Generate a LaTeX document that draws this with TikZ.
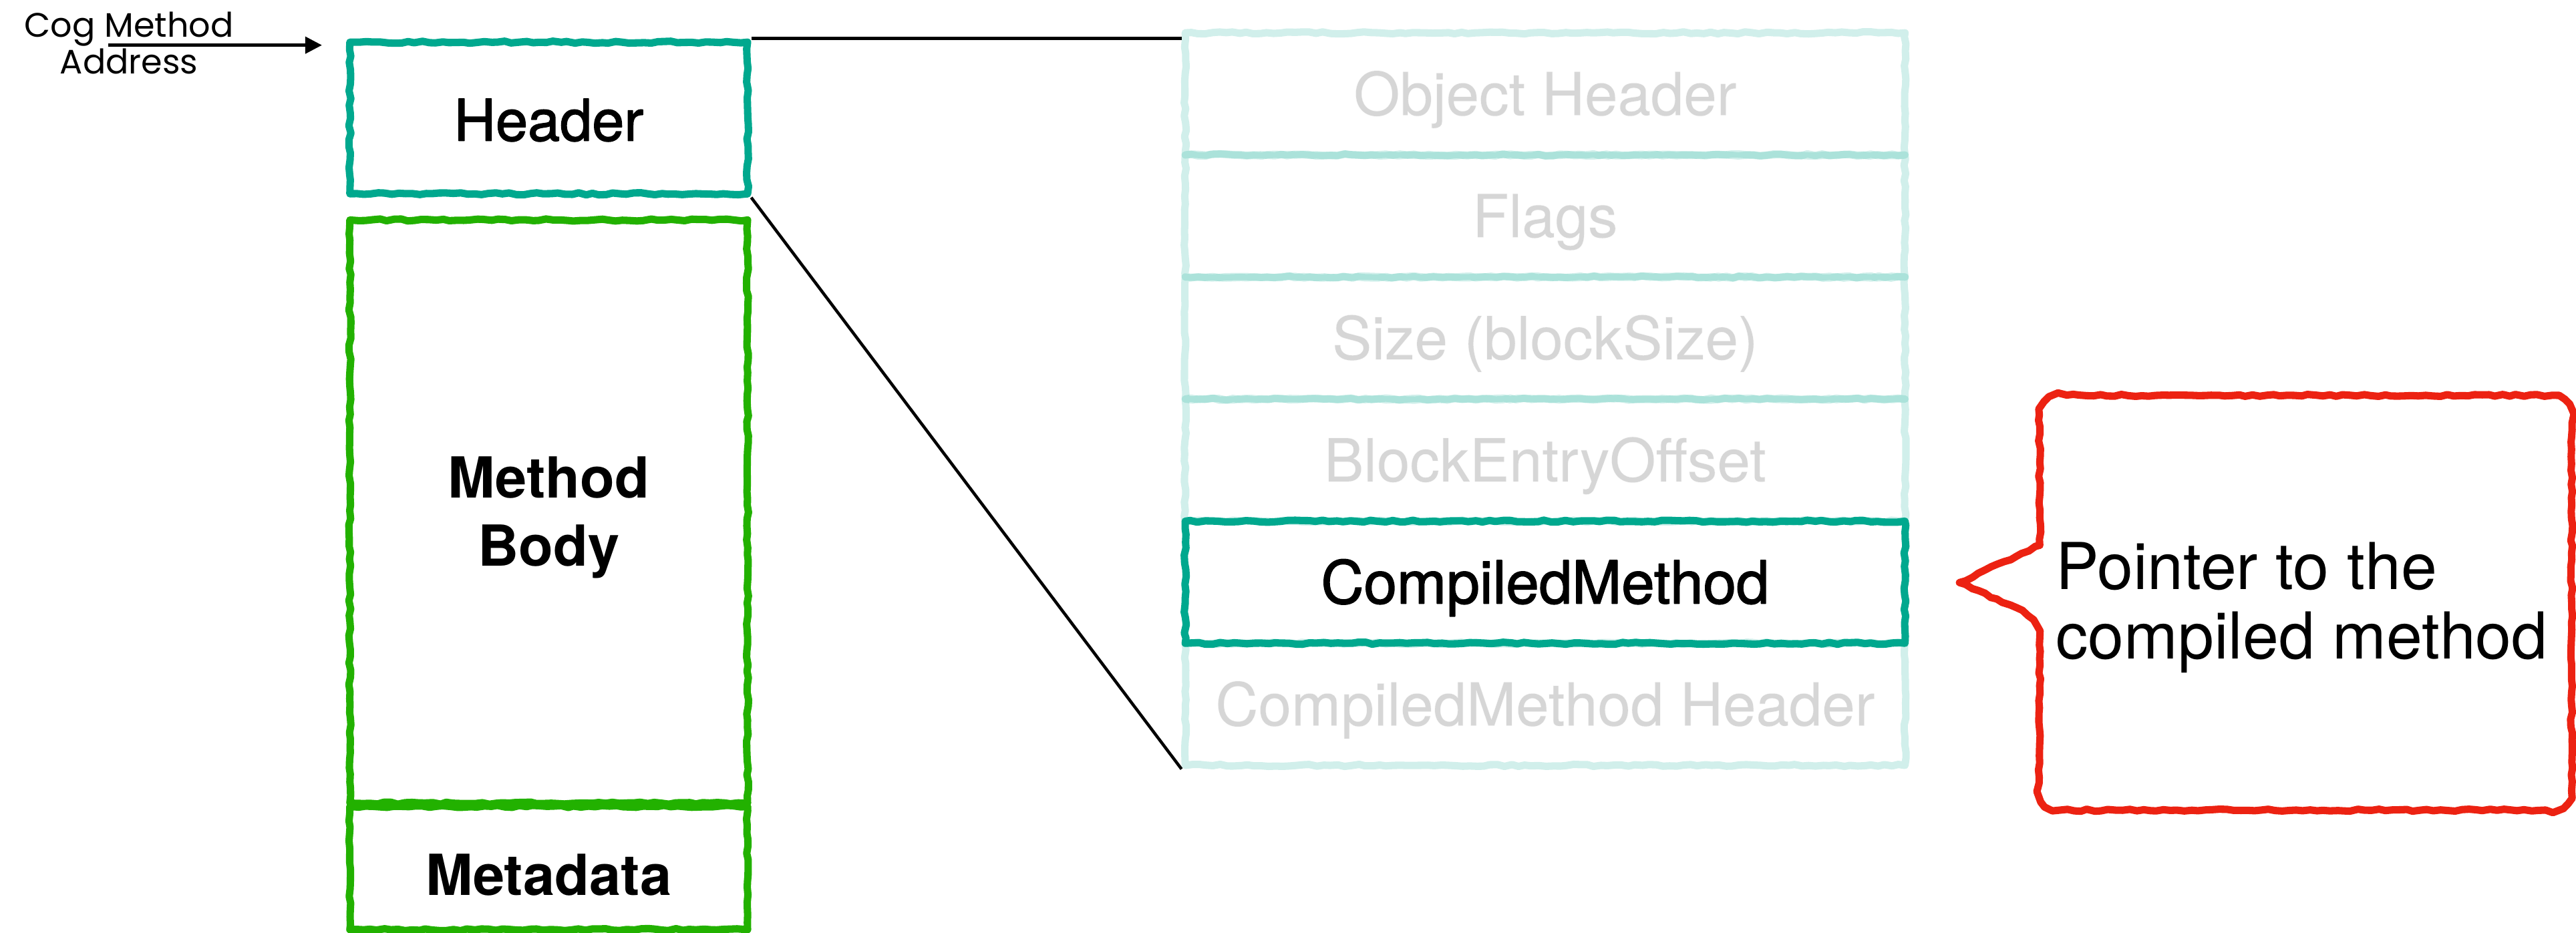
\documentclass[tikz,border=0pt]{standalone}
\usepackage{fontspec}
\setmainfont{TeX Gyre Heros}
\newfontfamily\medfont[FakeBold=1.6]{TeX Gyre Heros}
\newfontfamily\cogfont{Poppins}
\usetikzlibrary{decorations.pathmorphing, arrows.meta}
\definecolor{tealc}{RGB}{0,168,142}
\definecolor{greenc}{RGB}{34,177,0}
\definecolor{redc}{RGB}{236,34,18}
\definecolor{grayt}{RGB}{214,214,214}
\begin{document}
\begin{tikzpicture}[x=0.025cm, y=-0.025cm,
  sketch/.style={decorate, decoration={random steps, segment length=3pt, amplitude=0.45pt}, line join=round, line cap=round},
  lbox/.style={draw, line width=3.2pt, sketch, inner sep=0pt, minimum width=6.05cm},
  rowbox/.style={draw=tealc, draw opacity=0.18, text=grayt, line width=3.2pt, sketch, inner sep=0pt,
    minimum width=10.95cm, minimum height=1.858cm, font=\medfont\fontsize{25.7}{30}\selectfont,
    text height=18.4pt, text depth=0pt},
  thinline/.style={draw=black, line width=1.3pt},
  arrowline/.style={draw=black, line width=1.25pt, -{Triangle[length=7.2pt, width=7.2pt]}},
  redline/.style={draw=redc, line width=3.2pt, sketch},
  cogtext/.style={font=\cogfont\fontsize{14.7}{14.4}\selectfont, align=center, inner sep=0pt},
  callouttext/.style={font=\fontsize{28}{30}\selectfont, align=left, inner sep=0pt}
]
\pgfmathsetseed{7}
\useasboundingbox (0,0) rectangle (1568,568);

% left column
\node[lbox, draw=tealc, minimum height=2.3075cm, font=\medfont\fontsize{25}{30}\selectfont,
      text height=19.7pt, text depth=0pt] (hdr) at (334,71.85) {Header};
\node[lbox, draw=greenc, minimum height=8.875cm, font=\bfseries\fontsize{24.5}{29.5}\selectfont,
      align=center, text depth=0pt] (body) at (334,311.5) {Method\\Body};
\node[lbox, draw=greenc, minimum height=1.875cm, font=\bfseries\fontsize{24.5}{30}\selectfont,
      text height=23.4pt, text depth=0pt] (meta) at (334,528.5) {Metadata};

% right column
\node[rowbox] (r1) at (940.5,57.17) {Object Header};
\node[rowbox] (r2) at (940.5,131.5) {Flags};
\node[rowbox] (r3) at (940.5,205.83) {Size (blockSize)};
\node[rowbox] (r4) at (940.5,280.17) {BlockEntryOffset};
\node[rowbox] (r6) at (940.5,428.83) {CompiledMethod Header};
\node[rowbox, draw=tealc, draw opacity=1, text=black] (r5) at (940.5,354.5) {CompiledMethod};

% zoom lines
\draw[thinline] (hdr.north east) -- (hdr.north east -| r1.west);
\draw[thinline] (hdr.south east) -- (r6.south west);

% cog method address
\node[cogtext] (cog) at (78.5,26.2) {Cog Method\\Address};
\coordinate (astart) at (66,27.5);
\draw[arrowline, shorten >=10.5pt] (astart) -- (astart -| hdr.west);

% callout
\node[minimum width=8.085cm, minimum height=6.3cm, inner sep=0pt] (callout) at (1403.3,367) {};
\coordinate (ptip) at (1192.7,354.7);
\coordinate (pb1) at (1241.6,332);
\coordinate (pb2) at (1241.6,377);
\draw[redline] (pb1) [rounded corners=8.5pt] -- (callout.north west) -- (callout.north east)
  -- (callout.south east) -- (callout.south west) -- (pb2) [sharp corners] -- (ptip) -- cycle;
\node[callouttext, anchor=north west] (ctext) at (1251,330) {Pointer to the\\compiled method};
\end{tikzpicture}
\end{document}
